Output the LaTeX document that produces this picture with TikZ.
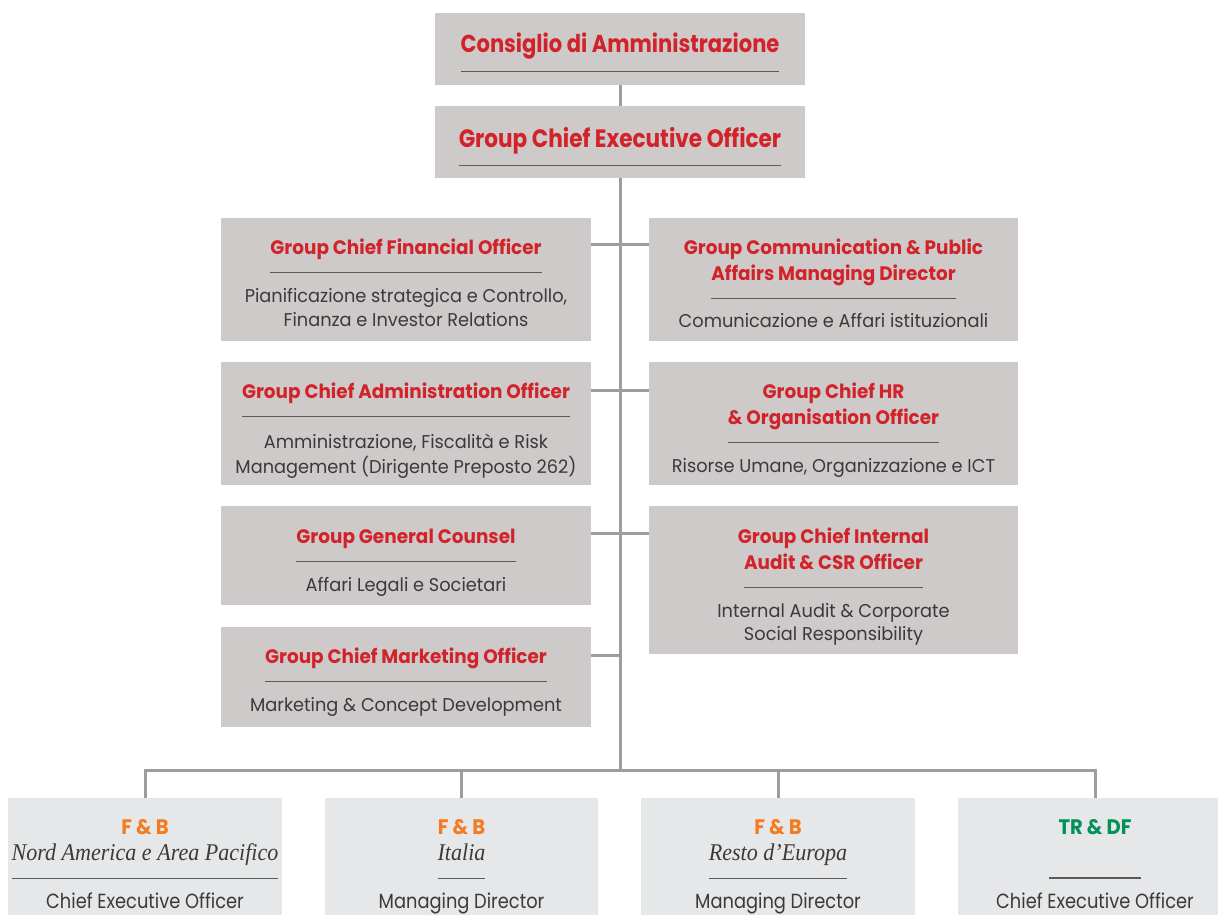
\documentclass[tikz,border=0pt]{standalone}
\usepackage{fontspec}
\newfontfamily\geofam[FakeStretch=0.86]{Poppins}
\newfontfamily\headfam[FakeStretch=0.945]{Poppins}
\newfontfamily\bodyfam[FakeStretch=0.96]{Poppins}
\newfontfamily\tagfam[FakeStretch=0.93]{Poppins}
\newfontfamily\rolefam[FakeStretch=0.87]{Poppins}
\newfontfamily\romfam[FakeStretch=0.92]{Liberation Serif}
\definecolor{boxgray}{HTML}{CDCAC9}
\definecolor{lowgray}{HTML}{E6E7E8}
\definecolor{headred}{HTML}{D2232A}
\definecolor{fborange}{HTML}{F47B20}
\definecolor{trgreen}{HTML}{009259}
\definecolor{inkgray}{HTML}{3A3A3A}
\definecolor{rulegray}{HTML}{5A5A5A}
\definecolor{linkgray}{HTML}{9D9CA0}
\newcommand\fTop{\geofam\bfseries\fontsize{24.5}{28}\selectfont}
\newcommand\fTopB{\geofam\bfseries\fontsize{25.1}{28}\selectfont}
\newcommand\fHead{\headfam\bfseries\fontsize{19.5}{22}\selectfont}
\newcommand\fBody{\bodyfam\fontsize{18.5}{22}\selectfont}
\newcommand\fTag{\tagfam\bfseries\fontsize{21}{24}\selectfont}
\newcommand\fArea{\romfam\itshape\fontsize{24}{28}\selectfont}
\newcommand\fRole{\rolefam\fontsize{20.5}{24}\selectfont}
\newcommand\ulnode[1]{\draw[rule] ([yshift=-18.5pt]#1.base west) -- ([yshift=-18.5pt]#1.base east);}
\begin{document}
\begin{tikzpicture}[x=1pt,y=-1pt,
  unit/.style={fill=boxgray,draw=none,anchor=north west,inner sep=0,outer sep=0},
  lowunit/.style={fill=lowgray,draw=none,anchor=north west,inner sep=0,outer sep=0,minimum height=130},
  ln/.style={anchor=base,inner sep=0,outer sep=0},
  head/.style={ln,font=\fHead,text=headred},
  tophead/.style={ln,font=\fTop,text=headred},
  body/.style={ln,font=\fBody,text=inkgray},
  tag/.style={ln,font=\fTag},
  area/.style={ln,font=\fArea,text=inkgray},
  role/.style={ln,font=\fRole,text=inkgray},
  rule/.style={draw=rulegray,line width=1.3pt},
  link/.style={draw=linkgray,line width=3pt}]
\useasboundingbox (0,0) rectangle (1218,915);

% ---- boxes ----
\node[unit,minimum width=370,minimum height=72] (cda) at (435,13) {};
\node[unit,minimum width=370,minimum height=72] (ceo) at (435,106) {};

\node[unit,minimum width=370,minimum height=123] (cfo) at (221,218) {};
\node[unit,minimum width=370,minimum height=123] (cao) at (221,362) {};
\node[unit,minimum width=370,minimum height=99] (gc) at (221,506) {};
\node[unit,minimum width=370,minimum height=100] (cmo) at (221,627) {};

\node[unit,minimum width=369,minimum height=123] (comm) at (649,218) {};
\node[unit,minimum width=369,minimum height=123] (hr) at (649,362) {};
\node[unit,minimum width=369,minimum height=148] (aud) at (649,506) {};

\node[lowunit,minimum width=274] (fbna) at (8,798) {};
\node[lowunit,minimum width=273] (ita) at (325,798) {};
\node[lowunit,minimum width=274] (eur) at (641,798) {};
\node[lowunit,minimum width=274] (trdf) at (958,798) {};

% ---- connectors ----
\coordinate (hub) at (620,770);
\draw[link] (cda.south) -- (ceo.north);
\draw[link] (ceo.south) -- (hub);
\draw[link] ([yshift=-26pt]cfo.north east) -- ([yshift=-26pt]comm.north west);
\draw[link] ([yshift=-28pt]cao.north east) -- ([yshift=-28pt]hr.north west);
\draw[link] ([yshift=-27pt]gc.north east) -- ([yshift=-27pt]aud.north west);
\coordinate (cmoJ) at ([yshift=-28pt]cmo.north east);
\draw[link] (cmoJ) -- (cmoJ -| hub);
\draw[link] (fbna.north) |- (hub) -| (trdf.north);
\draw[link] (ita.north) -- (ita.north |- hub);
\draw[link] (eur.north) -- (eur.north |- hub);

% ---- board and group CEO ----
\node[tophead] (cdaT) at (620,53) {Consiglio di Amministrazione};
\ulnode{cdaT}
\node[tophead,font=\fTopB] (ceoT) at (620,147) {Group Chief Executive Officer};
\ulnode{ceoT}

% ---- left column ----
\node[head] (cfoT) at (406,254) {Group Chief Financial Officer};
\ulnode{cfoT}
\node[body] (cfoB1) at (406,302) {Pianificazione strategica e Controllo,};
\node[body] (cfoB2) at (406,326) {Finanza e Investor Relations};

\node[head] (caoT) at (406,398) {Group Chief Administration Officer};
\ulnode{caoT}
\node[body] (caoB1) at (406,448) {Amministrazione, Fiscalità e Risk};
\node[body] (caoB2) at (406,473) {Management (Dirigente Preposto 262)};

\node[head] (gcT) at (406,543) {Group General Counsel};
\ulnode{gcT}
\node[body] (gcB1) at (406,591) {Affari Legali e Societari};

\node[head] (cmoT) at (406,663) {Group Chief Marketing Officer};
\ulnode{cmoT}
\node[body] (cmoB1) at (406,711) {Marketing \& Concept Development};

% ---- right column ----
\node[head] (commT1) at (833.5,254) {Group Communication \& Public};
\node[head] (commT2) at (833.5,280) {Affairs Managing Director};
\ulnode{commT2}
\node[body] (commB1) at (833.5,327) {Comunicazione e Affari istituzionali};

\node[head] (hrT1) at (833.5,398) {Group Chief HR};
\node[head] (hrT2) at (833.5,424) {\& Organisation Officer};
\ulnode{hrT2}
\node[body] (hrB1) at (833.5,472) {Risorse Umane, Organizzazione e ICT};

\node[head] (audT1) at (833.5,543) {Group Chief Internal};
\node[head] (audT2) at (833.5,569) {Audit \& CSR Officer};
\ulnode{audT2}
\node[body] (audB1) at (833.5,617) {Internal Audit \& Corporate};
\node[body] (audB2) at (833.5,640) {Social Responsibility};

% ---- business units ----
\node[tag,text=fborange] (fbnaT) at (145,834) {F \& B};
\node[area] (fbnaA) at (145,860) {Nord America e Area Pacifico};
\ulnode{fbnaA}
\node[role] (fbnaR) at (145,908) {Chief Executive Officer};

\node[tag,text=fborange] (itaT) at (461.5,834) {F \& B};
\node[area] (itaA) at (461.5,860) {Italia};
\ulnode{itaA}
\node[role] (itaR) at (461.5,908) {Managing Director};

\node[tag,text=fborange] (eurT) at (778,834) {F \& B};
\node[area] (eurA) at (778,860) {Resto d’Europa};
\ulnode{eurA}
\node[role] (eurR) at (778,908) {Managing Director};

\node[tag,text=trgreen] (trdfT) at (1095,834) {TR \& DF};
\draw[rule] ([xshift=-46pt,yshift=-44pt]trdfT.base) -- ([xshift=46pt,yshift=-44pt]trdfT.base);
\node[role] (trdfR) at (1095,908) {Chief Executive Officer};
\end{tikzpicture}
\end{document}
